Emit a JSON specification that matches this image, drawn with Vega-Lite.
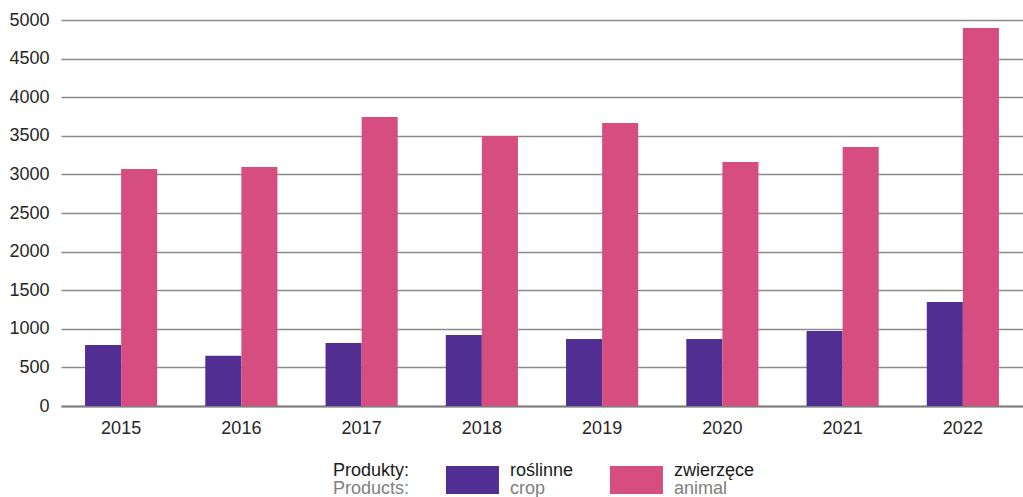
{
  "$schema": "https://vega.github.io/schema/vega-lite/v6.json",
  "background": "white",
  "padding": {"top": 11, "left": 0, "right": 0, "bottom": 0},
  "config": {"view": {"stroke": null}, "font": "Liberation Sans"},
  "bounds": "flush",
  "center": true,
  "spacing": 57,
  "vconcat": [
    {
      "width": 962,
      "height": 386,
      "data": {"values": [
        {"year": "2015", "product": "crop", "value": 790},
        {"year": "2015", "product": "animal", "value": 3070},
        {"year": "2016", "product": "crop", "value": 650},
        {"year": "2016", "product": "animal", "value": 3096},
        {"year": "2017", "product": "crop", "value": 816},
        {"year": "2017", "product": "animal", "value": 3743},
        {"year": "2018", "product": "crop", "value": 920},
        {"year": "2018", "product": "animal", "value": 3497},
        {"year": "2019", "product": "crop", "value": 868},
        {"year": "2019", "product": "animal", "value": 3666},
        {"year": "2020", "product": "crop", "value": 868},
        {"year": "2020", "product": "animal", "value": 3160},
        {"year": "2021", "product": "crop", "value": 971},
        {"year": "2021", "product": "animal", "value": 3355},
        {"year": "2022", "product": "crop", "value": 1347},
        {"year": "2022", "product": "animal", "value": 4896}
      ]},
      "mark": {"type": "bar"},
      "encoding": {
        "x": {"field": "year", "type": "nominal", "scale": {"paddingInner": 0.4, "paddingOuter": 0.2},
          "axis": {"title": null, "labelAngle": 0, "labelFontSize": 18, "labelColor": "#262626", "ticks": false, "domainColor": "#7f7f7f", "domainWidth": 2, "labelPadding": 13}},
        "xOffset": {"field": "product", "type": "nominal", "sort": ["crop", "animal"]},
        "y": {"field": "value", "type": "quantitative", "scale": {"domain": [0, 5000]},
          "axis": {"title": null, "format": "d", "values": [0, 500, 1000, 1500, 2000, 2500, 3000, 3500, 4000, 4500, 5000], "domain": false, "ticks": false, "gridColor": "#8c8c8c", "gridWidth": 1.5, "labelFontSize": 18, "labelColor": "#262626", "labelPadding": 12, "minExtent": 61, "maxExtent": 61}},
        "color": {"field": "product", "type": "nominal", "scale": {"domain": ["crop", "animal"], "range": ["#512E91", "#D64E80"]}, "legend": null}
      }
    },
    {
      "width": 656,
      "height": 34,
      "data": {"values": [
        {"product": "crop", "pl": "roślinne", "en": "crop", "row": "legend"},
        {"product": "animal", "pl": "zwierzęce", "en": "animal", "row": "legend"}
      ]},
      "encoding": {
        "x": {"field": "product", "type": "nominal", "sort": ["crop", "animal"], "scale": {"paddingInner": 0, "paddingOuter": 1, "align": 0.538}, "axis": null},
        "y": {"field": "row", "type": "nominal", "axis": null}
      },
      "layer": [
        {"mark": {"type": "bar", "width": 53, "height": 28},
         "encoding": {"color": {"field": "product", "type": "nominal", "scale": {"domain": ["crop", "animal"], "range": ["#512E91", "#D64E80"]}, "legend": null}}},
        {"mark": {"type": "text", "align": "left", "baseline": "middle", "dx": 37.5, "dy": -9, "fontSize": 18, "color": "#1a1a1a"},
         "encoding": {"text": {"field": "pl"}}},
        {"mark": {"type": "text", "align": "left", "baseline": "middle", "dx": 37.5, "dy": 9, "fontSize": 18, "color": "#808080"},
         "encoding": {"text": {"field": "en"}}},
        {"transform": [{"filter": "datum.product == 'crop'"}],
         "mark": {"type": "text", "align": "left", "baseline": "middle", "dx": -139.5, "dy": -9, "fontSize": 18, "color": "#1a1a1a"},
         "encoding": {"text": {"value": "Produkty:"}}},
        {"transform": [{"filter": "datum.product == 'crop'"}],
         "mark": {"type": "text", "align": "left", "baseline": "middle", "dx": -139.5, "dy": 9, "fontSize": 18, "color": "#808080"},
         "encoding": {"text": {"value": "Products:"}}}
      ]
    }
  ]
}
